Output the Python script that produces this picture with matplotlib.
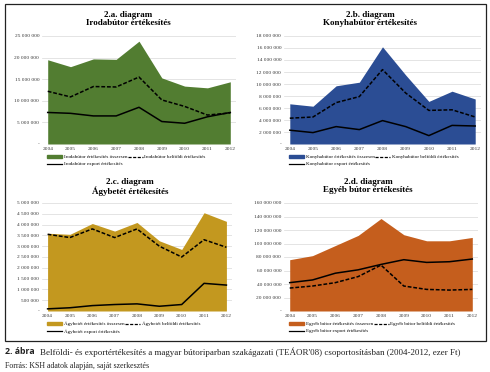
import numpy as np
import matplotlib
matplotlib.use("Agg")
import matplotlib.pyplot as plt
from matplotlib.patches import Rectangle, Patch
from matplotlib.lines import Line2D
from matplotlib.ticker import FuncFormatter

years = [2004, 2005, 2006, 2007, 2008, 2009, 2010, 2011, 2012]

# Irodabútor (ezer Ft)
iroda_total = [19500000, 17900000, 19700000, 19600000, 23800000, 15300000, 13400000, 13000000, 14400000]
iroda_belfoldi = [12200000, 10900000, 13300000, 13200000, 15500000, 10200000, 8700000, 6700000, 7200000]
iroda_export = [7300000, 7100000, 6500000, 6500000, 8500000, 5200000, 4800000, 6300000, 7300000]

# Konyhabútor
konyha_total = [6700000, 6300000, 9700000, 10300000, 16200000, 11500000, 7100000, 8800000, 7500000]
konyha_belfoldi = [4300000, 4500000, 6900000, 7900000, 12400000, 8500000, 5600000, 5700000, 4500000]
konyha_export = [2300000, 1900000, 2900000, 2400000, 3900000, 2900000, 1400000, 3100000, 3000000]

# Ágybetét
agy_total = [3600000, 3550000, 4050000, 3700000, 4100000, 3250000, 2850000, 4550000, 4150000]
agy_belfoldi = [3550000, 3400000, 3800000, 3400000, 3800000, 3000000, 2500000, 3300000, 2950000]
agy_export = [100000, 150000, 250000, 300000, 330000, 220000, 300000, 1280000, 1200000]

# Egyéb bútor
egyeb_total = [76000000, 82000000, 97000000, 112000000, 137000000, 113000000, 104000000, 104000000, 109000000]
egyeb_belfoldi = [34000000, 37000000, 42000000, 51000000, 68000000, 37000000, 32000000, 31000000, 32000000]
egyeb_export = [42000000, 46000000, 56000000, 61000000, 69000000, 76000000, 72000000, 73000000, 77000000]

W, H = 490, 372
fig = plt.figure(figsize=(W / 100, H / 100), dpi=100)
fig.patch.set_facecolor("white")

SERIF = "Liberation Serif"


def box(x0, y0, x1, y1):
    # pixel box (top-left origin) -> figure fraction
    return [x0 / W, 1 - y1 / H, (x1 - x0) / W, (y1 - y0) / H]


def fmt(v, pos):
    if v == 0:
        return "-"
    return "{:,.0f}".format(v).replace(",", " ")


def panel(rect, total, belf, export, color, ymax, ystep, title, name, title_x, title_y, leg_y):
    ax = fig.add_axes(box(*rect))
    ax.fill_between(years, 0, total, color=color, lw=0, zorder=2)
    ax.plot(years, belf, color="black", lw=1.1, ls=(0, (2.5, 1.2)), zorder=3)
    ax.plot(years, export, color="black", lw=1.1, zorder=3)
    ax.set_xlim(2003.75, 2012.25)
    ax.set_ylim(0, ymax)
    ax.set_yticks(np.arange(0, ymax + 1, ystep))
    ax.yaxis.set_major_formatter(FuncFormatter(fmt))
    ax.set_xticks(years)
    ax.tick_params(axis="both", length=0, labelsize=3.9, pad=2)
    for lab in ax.get_xticklabels() + ax.get_yticklabels():
        lab.set_fontfamily(SERIF)
        lab.set_color("#333333")
    ax.grid(axis="y", color="#d9d9d9", lw=0.5, zorder=0)
    for s in ax.spines.values():
        s.set_visible(False)
    ax.set_facecolor("white")

    fig.text(title_x / W, 1 - title_y / H, "2." + title + " diagram\n" + name + " értékesítés",
             ha="center", va="top", fontsize=6.5, fontweight="bold", family=SERIF,
             linespacing=1.0)

    handles = [Patch(color=color),
               Line2D([], [], color="black", lw=0.9),
               Line2D([], [], color="black", lw=0.9, ls=(0, (2.5, 1.2)))]
    labels = [name + " értékesítés összesen",
              name + " export értékesítés",
              name + " belföldi értékesítés"]
    ax.legend(handles, labels, ncol=2, loc="upper left",
              bbox_to_anchor=((rect[0] + 5) / W, 1 - leg_y / H),
              bbox_transform=fig.transFigure, frameon=False,
              prop={"family": SERIF, "size": 3.6}, handlelength=3.0,
              handleheight=0.6, handletextpad=0.3, columnspacing=0.2,
              labelspacing=0.5, borderpad=0, borderaxespad=0)
    return ax


panel((42, 36, 236, 144), iroda_total, iroda_belfoldi, iroda_export, "#527d31",
      25000000, 5000000, "a.", "Irodabútor", 128, 11, 155)
panel((284, 36, 481, 144), konyha_total, konyha_belfoldi, konyha_export, "#2b4d94",
      18000000, 2000000, "b.", "Konyhabútor", 370, 11, 155)
panel((42, 203, 232, 311), agy_total, agy_belfoldi, agy_export, "#c3981f",
      5000000, 500000, "c.", "Ágybetét", 130, 178, 322)
panel((284, 203, 478, 311), egyeb_total, egyeb_belfoldi, egyeb_export, "#c55e1d",
      160000000, 20000000, "d.", "Egyéb bútor", 368, 178, 322)

# frame around the charts
fig.patches.append(Rectangle((5 / W, 1 - 341 / H), 481 / W, 337 / H,
                             transform=fig.transFigure, fill=False,
                             ec="#222222", lw=0.9))

fig.text(5 / W, 1 - 352 / H, "2. ábra", ha="left", va="center", fontsize=6.3,
         family="Open Sans", fontweight="bold", color="#222222")
fig.text(40 / W, 1 - 352 / H,
         "Belföldi- és exportértékesítés a magyar bútoriparban szakágazati (TEÁOR'08) "
         "csoportosításban (2004-2012, ezer Ft)",
         ha="left", va="center", fontsize=6.5, family=SERIF, color="#222222")
fig.text(5 / W, 1 - 366 / H, "Forrás: KSH adatok alapján, saját szerkesztés",
         ha="left", va="center", fontsize=5.7, family=SERIF, color="#222222")

fig.savefig("out.png", dpi=100)
